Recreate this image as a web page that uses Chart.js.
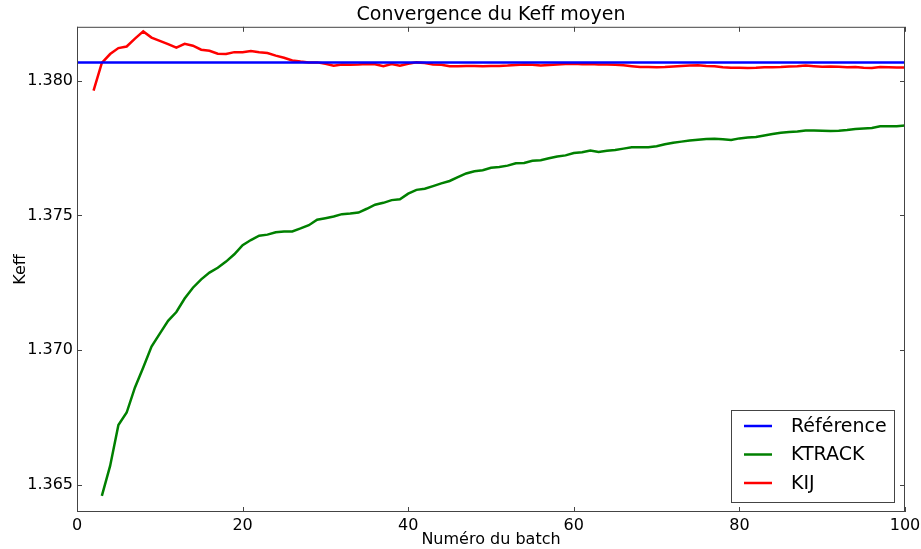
<!DOCTYPE html>
<html>
<head>
<meta charset="utf-8">
<script src="https://cdn.jsdelivr.net/npm/chart.js@4/dist/chart.umd.min.js"></script>
<style>
  html, body { margin: 0; padding: 0; background: #fff; }
  canvas { display: block; }
</style>
</head>
<body>
<canvas id="keffChart" width="921" height="549"></canvas>
<script>
// Keff convergence data

const refValue = 1.38068;
const refBatches = [0, 100];

const ktrackStart = 3;
const ktrackValues = [
  1.36460, 1.36571, 1.36723, 1.36769, 1.36862, 1.36936, 1.37014, 1.37062, 1.37109, 1.37142,
  1.37192, 1.37232, 1.37263, 1.37288, 1.37306, 1.37329, 1.37356, 1.37390, 1.37409, 1.37425,
  1.37429, 1.37438, 1.37441, 1.37441, 1.37452, 1.37464, 1.37484, 1.37490, 1.37496, 1.37505,
  1.37507, 1.37511, 1.37525, 1.37540, 1.37547, 1.37557, 1.37560, 1.37581, 1.37595, 1.37599,
  1.37609, 1.37619, 1.37628, 1.37642, 1.37656, 1.37664, 1.37668, 1.37677, 1.37680, 1.37685,
  1.37694, 1.37695, 1.37703, 1.37705, 1.37712, 1.37719, 1.37723, 1.37732, 1.37735, 1.37741,
  1.37736, 1.37740, 1.37743, 1.37748, 1.37753, 1.37753, 1.37753, 1.37757, 1.37764, 1.37770,
  1.37774, 1.37778, 1.37781, 1.37784, 1.37785, 1.37783, 1.37780, 1.37786, 1.37789, 1.37791,
  1.37797, 1.37802, 1.37807, 1.37810, 1.37812, 1.37815, 1.37815, 1.37814, 1.37813, 1.37814,
  1.37817, 1.37821, 1.37823, 1.37825, 1.37831, 1.37831, 1.37831, 1.37834
];

const kijStart = 2;
const kijValues = [
  1.37963, 1.38066, 1.38099, 1.38121, 1.38127, 1.38156, 1.38183, 1.38160, 1.38148, 1.38136,
  1.38123, 1.38137, 1.38130, 1.38115, 1.38111, 1.38100, 1.38099, 1.38106, 1.38106, 1.38110,
  1.38106, 1.38103, 1.38093, 1.38085, 1.38075, 1.38071, 1.38068, 1.38068, 1.38063, 1.38056,
  1.38060, 1.38059, 1.38060, 1.38062, 1.38061, 1.38054, 1.38062,
  1.38056, 1.38063, 1.38068, 1.38066, 1.38060, 1.38059, 1.38054, 1.38054, 1.38055, 1.38055,
  1.38054, 1.38055, 1.38055, 1.38056, 1.38058, 1.38060, 1.38059, 1.38056, 1.38058, 1.38060,
  1.38062, 1.38063, 1.38061, 1.38062, 1.38060, 1.38060, 1.38059, 1.38057, 1.38054, 1.38051,
  1.38051, 1.38050, 1.38051, 1.38053, 1.38055, 1.38056, 1.38057, 1.38055, 1.38054, 1.38050,
  1.38048, 1.38048, 1.38047, 1.38048, 1.38050, 1.38050, 1.38051, 1.38053, 1.38054, 1.38056,
  1.38054, 1.38052, 1.38053, 1.38052, 1.38050, 1.38051, 1.38048, 1.38047, 1.38051, 1.38050,
  1.38049, 1.38049
];

const xTicks = [0, 20, 40, 60, 80, 100];
const yTicks = [1.365, 1.370, 1.375, 1.380];

const FONT = "'DejaVu Sans', sans-serif";

// turn a value list into {x, y} points starting at a given batch
function toPoints(start, values) {
  return values.map((v, i) => ({ x: start + i, y: v }));
}

// matplotlib-like frame with inward ticks on every side
const framePlugin = {
  id: 'frame',
  afterDraw(chart) {
    const { ctx, chartArea: a, scales } = chart;
    ctx.save();
    ctx.strokeStyle = '#444';
    ctx.lineWidth = 1;
    ctx.strokeRect(a.left + 0.5, a.top + 0.5, a.right - a.left - 1, a.bottom - a.top - 1);
    ctx.beginPath();
    xTicks.forEach(t => {
      const px = Math.round(scales.x.getPixelForValue(t)) + 0.5;
      ctx.moveTo(px, a.bottom); ctx.lineTo(px, a.bottom - 5);
      ctx.moveTo(px, a.top); ctx.lineTo(px, a.top + 5);
    });
    yTicks.forEach(t => {
      const py = Math.round(scales.y.getPixelForValue(t)) + 0.5;
      ctx.moveTo(a.left, py); ctx.lineTo(a.left + 5, py);
      ctx.moveTo(a.right, py); ctx.lineTo(a.right - 5, py);
    });
    ctx.stroke();
    ctx.restore();
  }
};

// legend box in the lower right corner of the plot
const legendBoxPlugin = {
  id: 'legendBox',
  afterDraw(chart) {
    const { ctx, chartArea: a } = chart;
    const boxW = 163, boxH = 92;
    const bx = a.right - 11 - boxW;
    const by = a.bottom - 10 - boxH;
    ctx.save();
    ctx.fillStyle = '#fff';
    ctx.fillRect(bx, by, boxW, boxH);
    ctx.strokeStyle = '#444';
    ctx.lineWidth = 1;
    ctx.strokeRect(bx + 0.5, by + 0.5, boxW, boxH);
    ctx.font = '19px ' + FONT;
    ctx.textBaseline = 'middle';
    chart.data.datasets.forEach((ds, i) => {
      const y = by + 16 + i * 28.5;
      ctx.strokeStyle = ds.borderColor;
      ctx.lineWidth = 2.5;
      ctx.beginPath();
      ctx.moveTo(bx + 13, y);
      ctx.lineTo(bx + 41, y);
      ctx.stroke();
      ctx.fillStyle = '#000';
      ctx.fillText(ds.label, bx + 60, y + 1);
    });
    ctx.restore();
  }
};

new Chart(document.getElementById('keffChart'), {
  type: 'line',
  data: {
    datasets: [
      {
        label: 'Référence',
        data: refBatches.map(b => ({ x: b, y: refValue })),
        borderColor: '#0000ff',
        borderWidth: 2.5,
        pointRadius: 0
      },
      {
        label: 'KTRACK',
        data: toPoints(ktrackStart, ktrackValues),
        borderColor: '#008000',
        borderWidth: 2.5,
        pointRadius: 0
      },
      {
        label: 'KIJ',
        data: toPoints(kijStart, kijValues),
        borderColor: '#ff0000',
        borderWidth: 2.5,
        pointRadius: 0
      }
    ]
  },
  options: {
    responsive: false,
    animation: false,
    devicePixelRatio: 1,
    layout: { padding: { left: 0, right: 16, top: 0, bottom: 0 } },
    scales: {
      x: {
        type: 'linear',
        min: 0,
        max: 100,
        afterBuildTicks: s => { s.ticks = xTicks.map(v => ({ value: v })); },
        afterFit: s => { s.height = 37; s.paddingLeft = 0; s.paddingRight = 0; },
        grid: { display: false, drawTicks: false },
        border: { display: false },
        ticks: { color: '#000', font: { family: FONT, size: 16 }, padding: 4, maxRotation: 0 },
        title: { display: true, text: 'Numéro du batch', color: '#000', font: { family: FONT, size: 16 }, padding: { top: 0, bottom: 0 } }
      },
      y: {
        type: 'linear',
        min: 1.364,
        max: 1.382,
        afterBuildTicks: s => { s.ticks = yTicks.map(v => ({ value: v })); },
        afterFit: s => { s.width = 77; s.paddingTop = 0; s.paddingBottom = 0; },
        grid: { display: false, drawTicks: false },
        border: { display: false },
        ticks: { color: '#000', font: { family: FONT, size: 16 }, padding: 4, callback: v => v.toFixed(3) },
        title: { display: true, text: 'Keff', color: '#000', font: { family: FONT, size: 16 }, padding: { top: 11, bottom: 0 } }
      }
    },
    plugins: {
      legend: { display: false },
      tooltip: { enabled: false },
      title: {
        display: true,
        text: 'Convergence du Keff moyen',
        color: '#000',
        fullSize: false,
        font: { family: FONT, size: 19, weight: 'normal' },
        padding: { top: 4, bottom: 0 }
      }
    }
  },
  plugins: [framePlugin, legendBoxPlugin]
});
</script>
</body>
</html>
